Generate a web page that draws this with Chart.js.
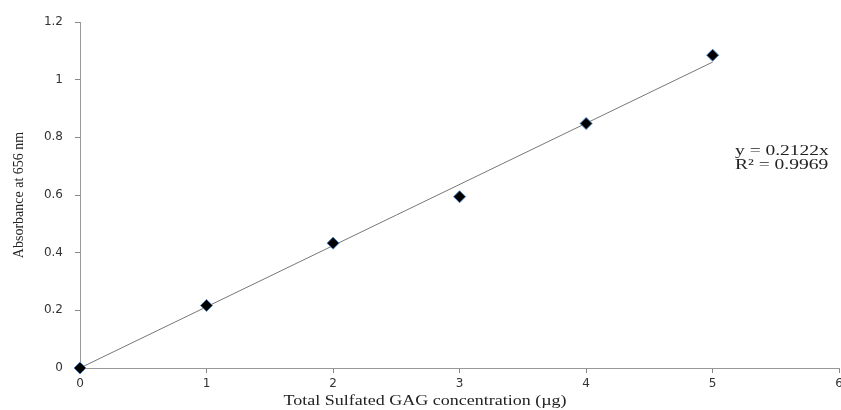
<!doctype html>
<html lang="en">
<head>
    <meta charset="UTF-8" />
    <title>GAG Standard Curve</title>
    <style>
        body { margin: 0; background: #fff; overflow: hidden; }
        /* a bit wider than the window: the "6" label gets cut at the edge like the original */
        .chart-container { position: relative; width: 847px; height: 410px; }
    </style>
</head>
<body>
    <div class="chart-container">
        <canvas id="gagChart"></canvas>
    </div>

    <script src="https://cdn.jsdelivr.net/npm/chart.js"></script>
    <script>
        // Measured points
        const concentrations = [0, 1, 2, 3, 4, 5];
        const absorbance = [0, 0.217, 0.433, 0.594, 0.848, 1.085];
        // Linear fit through origin
        const slope = 0.2122;
        const fitX = [0, 5];
        const fitLabels = ['y = 0.2122x', 'R\u00b2 = 0.9969'];

        const ctx = document.getElementById('gagChart').getContext('2d');

        // the source image is stretched sideways, so serif text is drawn wide
        function wideText(c, text, x, y, sx) {
            c.save();
            c.translate(x, y);
            c.scale(sx, 1);
            c.fillText(text, 0, 0);
            c.restore();
        }

        // draws the x title and trendline equation text
        const textPlugin = {
            id: 'textPlugin',
            afterDraw(chart) {
                const c = chart.ctx;
                c.save();
                c.fillStyle = '#222';
                c.font = '15px "Liberation Serif", serif';
                c.textBaseline = 'middle';
                c.textAlign = 'center';
                wideText(c, 'Total Sulfated GAG concentration (\u00b5g)', 425, 401, 1.2);
                c.textAlign = 'left';
                wideText(c, fitLabels[0], 735, 151, 1.3);
                wideText(c, fitLabels[1], 735, 165, 1.3);
                c.restore();
            }
        };

        const tickFmt = v => String(Number(v.toFixed(2)));

        new Chart(ctx, {
            type: 'scatter',
            data: {
                datasets: [{
                    label: 'Absorbance',
                    data: concentrations.map((x, i) => ({ x: x, y: absorbance[i] })),
                    pointStyle: 'rectRot',
                    pointRadius: 6,
                    pointBackgroundColor: '#000',
                    pointBorderColor: '#4a7fc0',
                    pointBorderWidth: 1,
                    clip: false,
                    order: 1
                }, {
                    label: 'Linear fit',
                    type: 'line',
                    data: fitX.map(x => ({ x: x, y: slope * x })),
                    borderColor: '#777',
                    borderWidth: 1,
                    pointRadius: 0,
                    clip: false,
                    order: 2
                }]
            },
            options: {
                responsive: true,
                maintainAspectRatio: false,
                animation: false,
                layout: { padding: { top: 22, right: 0, left: 0, bottom: 0 } },
                plugins: {
                    legend: { display: false },
                    tooltip: { enabled: false }
                },
                scales: {
                    x: {
                        type: 'linear',
                        min: 0,
                        max: 6,
                        ticks: {
                            stepSize: 1,
                            color: '#333',
                            font: { family: 'DejaVu Sans', size: 12 },
                            padding: 4,
                            callback: tickFmt
                        },
                        grid: { drawOnChartArea: false, color: '#888', tickLength: 5 },
                        border: { color: '#999' },
                        afterFit(s) { s.height = 42; }
                    },
                    y: {
                        min: 0,
                        max: 1.2,
                        ticks: {
                            stepSize: 0.2,
                            color: '#333',
                            font: { family: 'DejaVu Sans', size: 12 },
                            padding: 12,
                            callback: tickFmt
                        },
                        grid: { drawOnChartArea: false, color: '#888', tickLength: 5 },
                        border: { color: '#999' },
                        title: {
                            display: true,
                            text: 'Absorbance at 656 nm',
                            color: '#222',
                            font: { family: 'Liberation Serif', size: 14 },
                            padding: { top: 11, bottom: 0 }
                        },
                        afterFit(s) { s.width = 80; }
                    }
                }
            },
            plugins: [textPlugin]
        });
    </script>
</body>
</html>
